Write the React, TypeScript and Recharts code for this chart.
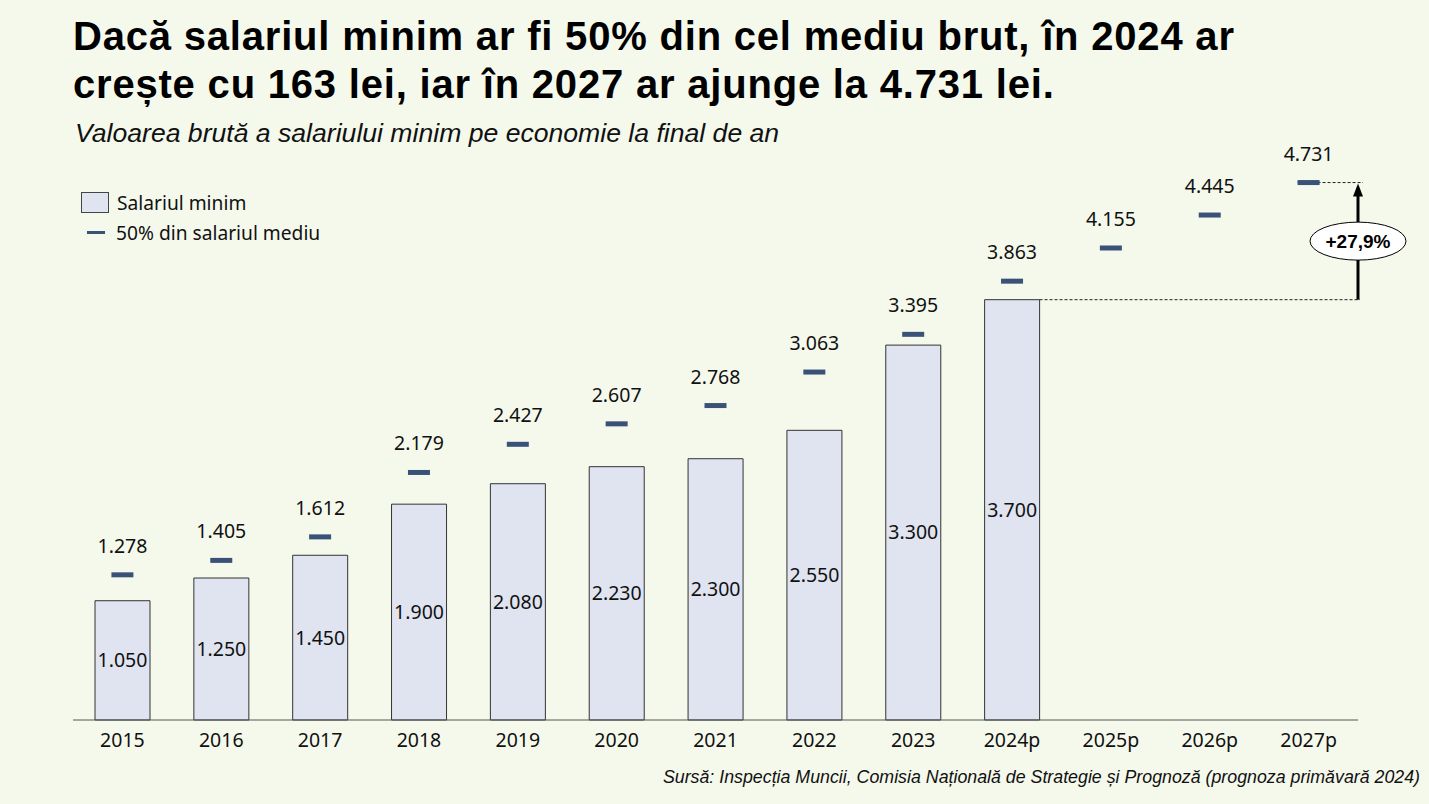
import React from 'react';
import { ComposedChart, Bar, Line, XAxis, YAxis, LabelList, ReferenceLine } from 'recharts';

const years = ['2015', '2016', '2017', '2018', '2019', '2020', '2021', '2022', '2023', '2024p', '2025p', '2026p', '2027p'];
const minWage = [1050, 1250, 1450, 1900, 2080, 2230, 2300, 2550, 3300, 3700, null, null, null];
const halfAvgWage = [1278, 1405, 1612, 2179, 2427, 2607, 2768, 3063, 3395, 3863, 4155, 4445, 4731];

const data = years.map((year, i) => ({
  year,
  minWage: minWage[i],
  halfAvg: halfAvgWage[i],
}));

const BG = '#f5f9ec';
const BAR_FILL = '#dfe4f0';
const MARK = '#3b5278';
const FONT = '"Noto Sans", "Open Sans", sans-serif';
const HELV = '"Liberation Sans", Arial, sans-serif';
const BAR_SIZE = 55;

const fmt = (v: any) => (v == null ? '' : String(v).replace(/\B(?=(\d{3})+(?!\d))/g, '.'));

const Dash = (props: any) => {
  const { cx, cy } = props;
  if (cx == null || cy == null) return null;
  return <rect x={cx - 11} y={cy - 2.5} width={22} height={5} fill={MARK} />;
};

// dashed guides + arrow between 2024p bar top and 2027p marker
const GrowthArrow = (props: any) => {
  const { x1, y1, x2, y2 } = props;
  const band = (x2 - x1) / 3;
  const barRight = x1 + BAR_SIZE / 2;
  const edge = x2 + band / 2;
  const midY = (y1 + y2) / 2;
  return (
    <g>
      <line x1={barRight} y1={y1} x2={edge + 2} y2={y1} stroke="#222" strokeDasharray="3 2" strokeWidth={1} />
      <line x1={x2 - 11} y1={y2} x2={edge + 5} y2={y2} stroke="#222" strokeDasharray="3 2" strokeWidth={1} />
      <line x1={edge} y1={y1} x2={edge} y2={y2 + 12} stroke="#000" strokeWidth={3} />
      <polygon points={`${edge - 5},${y2 + 14} ${edge + 5},${y2 + 14} ${edge},${y2 + 1}`} fill="#000" />
      <ellipse cx={edge} cy={midY} rx={48} ry={19} fill="#fff" stroke="#000" strokeWidth={1} />
      <text x={edge} y={midY} textAnchor="middle" dominantBaseline="central" fontFamily={HELV} fontWeight="bold" fontSize={19} fill="#000">
        +27,9%
      </text>
    </g>
  );
};

const LegendBox = () => (
  <div style={{ position: 'absolute', left: 81, top: 188, fontFamily: FONT, fontSize: 19.2, color: '#111', whiteSpace: 'nowrap' }}>
    <div style={{ display: 'flex', alignItems: 'center', height: 28 }}>
      <span style={{ display: 'inline-block', width: 26, height: 19, background: BAR_FILL, border: '1px solid #444', marginRight: 8 }} />
      Salariul minim
    </div>
    <div style={{ display: 'flex', alignItems: 'center', height: 32 }}>
      <span style={{ display: 'inline-block', width: 18, height: 3, background: MARK, marginLeft: 6, marginRight: 11 }} />
      50% din salariul mediu
    </div>
  </div>
);

export default function App() {
  return (
    <div style={{ position: 'absolute', left: 0, top: 0, width: 1429, height: 804, background: BG, overflow: 'hidden' }}>
      <div style={{ position: 'absolute', left: 73, top: 11.5, fontFamily: HELV, fontWeight: 'bold', fontSize: 40, lineHeight: '48px', color: '#000', letterSpacing: 0.8, whiteSpace: 'nowrap' }}>
        <div>Dacă salariul minim ar fi 50% din cel mediu brut, în 2024 ar</div>
        <div>crește cu 163 lei, iar în 2027 ar ajunge la 4.731 lei.</div>
      </div>
      <div style={{ position: 'absolute', left: 75, top: 117.5, fontFamily: HELV, fontStyle: 'italic', fontSize: 26.6, lineHeight: '30px', color: '#111', whiteSpace: 'nowrap' }}>
        Valoarea brută a salariului minim pe economie la final de an
      </div>
      <div style={{ position: 'absolute', right: 9, top: 767, fontFamily: HELV, fontStyle: 'italic', fontSize: 17.8, color: '#111', whiteSpace: 'nowrap' }}>
        Sursă: Inspecția Muncii, Comisia Națională de Strategie și Prognoză (prognoza primăvară 2024)
      </div>
      <LegendBox />
      <ComposedChart
        width={1429}
        height={804}
        data={data}
        margin={{ top: 152, right: 71, left: 73, bottom: 54 }}
        barCategoryGap={22}
        style={{ position: 'absolute', left: 0, top: 0 }}
      >
        <XAxis
          dataKey="year"
          axisLine={{ stroke: '#555', strokeWidth: 1 }}
          tickLine={false}
          tick={{ fill: '#111', fontSize: 19.5, fontFamily: FONT }}
          tickMargin={7}
          interval={0}
          height={30}
        />
        <YAxis hide domain={[0, 5000]} />
        <Bar dataKey="minWage" name="Salariul minim" fill={BAR_FILL} stroke="#333" strokeWidth={1} barSize={BAR_SIZE} isAnimationActive={false}>
          <LabelList dataKey="minWage" position="center" formatter={fmt} style={{ fill: '#111', fontSize: 19.5, fontFamily: FONT }} />
        </Bar>
        <Line
          dataKey="halfAvg"
          name="50% din salariul mediu"
          stroke="none"
          strokeWidth={0}
          dot={<Dash />}
          activeDot={false}
          isAnimationActive={false}
        >
          <LabelList dataKey="halfAvg" position="top" offset={22} formatter={fmt} style={{ fill: '#111', fontSize: 19.5, fontFamily: FONT }} />
        </Line>
        <ReferenceLine
          segment={[{ x: '2024p', y: 3700 }, { x: '2027p', y: 4731 }]}
          shape={<GrowthArrow />}
        />
      </ComposedChart>
    </div>
  );
}
